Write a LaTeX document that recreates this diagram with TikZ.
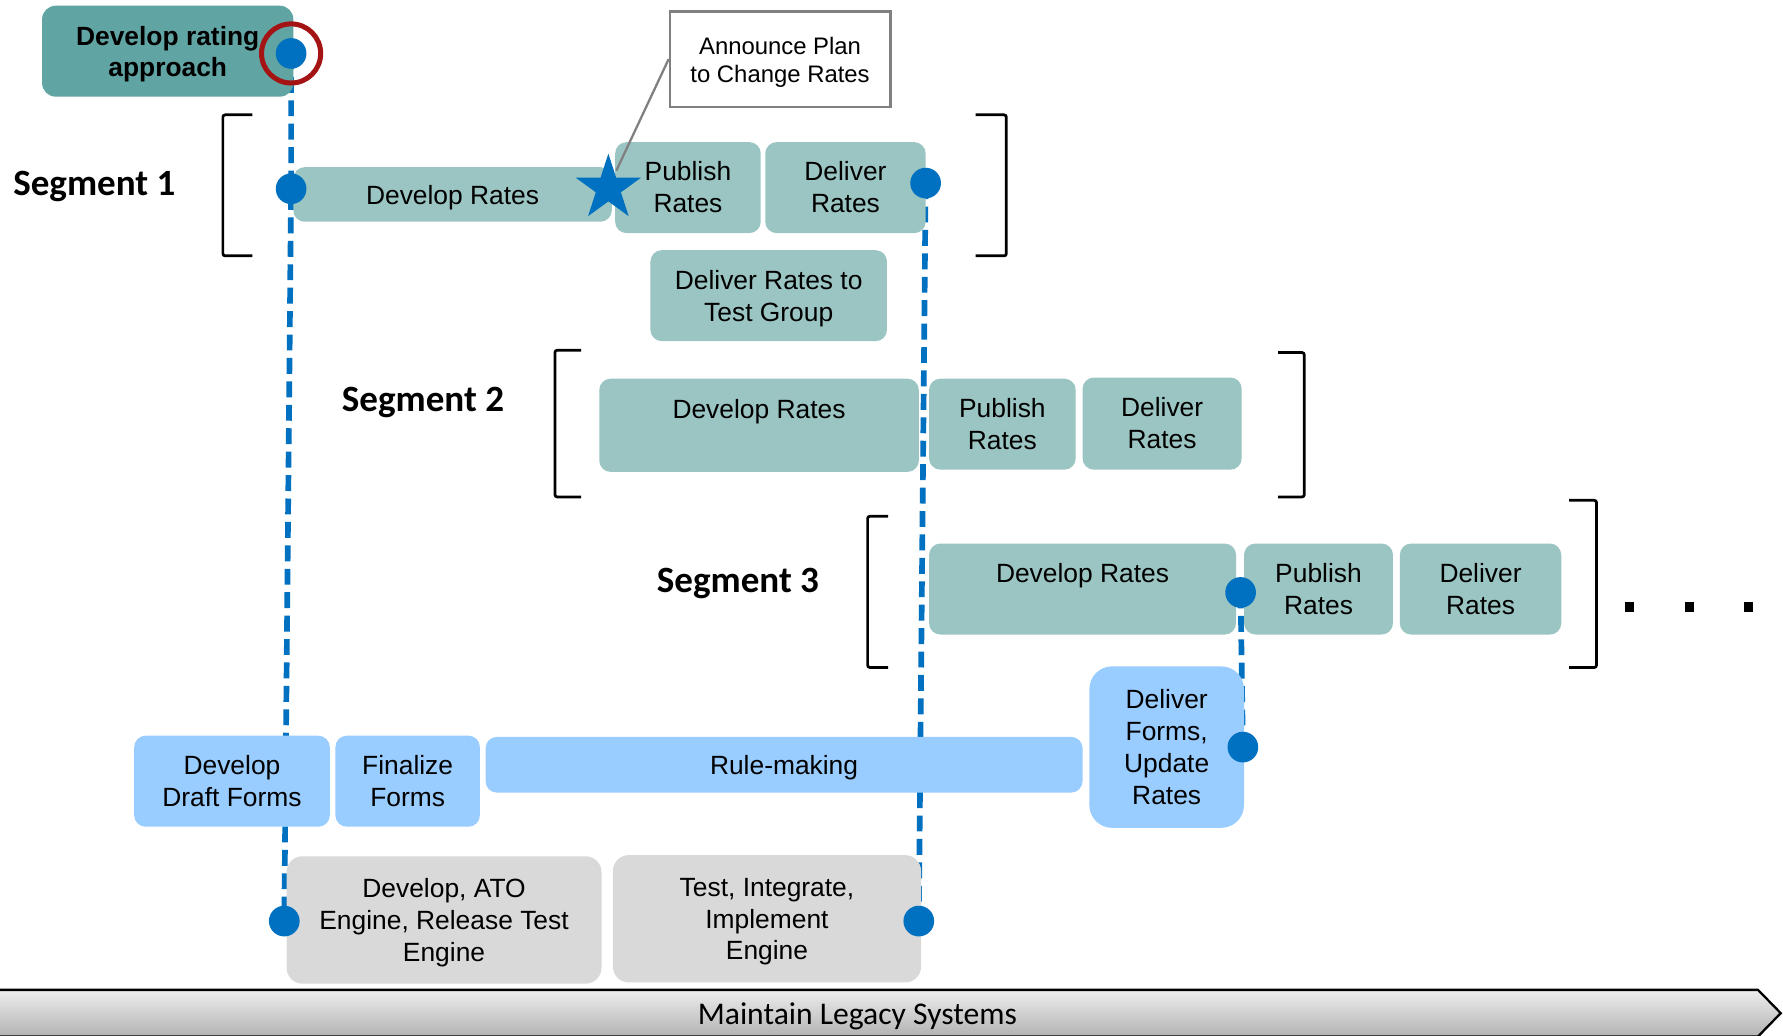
\documentclass[tikz,border=0pt]{standalone}
\usepackage{fontspec}
\setmainfont{Liberation Sans}
\newfontfamily\calib{Carlito}
\usetikzlibrary{shapes.geometric}
\pgfdeclarelayer{bg}
\pgfsetlayers{bg,main}
\definecolor{tealdark}{RGB}{96,165,163}
\definecolor{teallight}{RGB}{155,197,194}
\definecolor{bluelight}{RGB}{153,204,255}
\definecolor{greylight}{RGB}{217,217,217}
\definecolor{dotblue}{RGB}{0,112,192}
\definecolor{ringred}{RGB}{165,20,20}
\definecolor{linegray}{RGB}{128,128,128}
\definecolor{arrtop}{RGB}{238,238,238}
\definecolor{arrbot}{RGB}{178,178,178}
% name, x1, y1, x2, y2, box style, text style, text
\newcommand\mkbox[8]{%
  \node[#6, minimum width={(#4-#2)*0.5pt}, minimum height={(#5-#3)*0.5pt},
    label={[name=#1-t, boxtext, #7]center:{#8}}] (#1) at ({(#2+#4)/2},{(#3+#5)/2}) {};}
\begin{document}
\begin{tikzpicture}[x=0.5pt,y=-0.5pt,
  box/.style={rounded corners=5pt, inner sep=0pt},
  boxtext/.style={inner sep=0pt, align=center, yshift=-1.3pt, font=\fontsize{11.6}{14}\selectfont},
  hi/.style={yshift=1.4pt},
  tealbox/.style={box, fill=teallight},
  formbox/.style={box, fill=bluelight},
  engbox/.style={box, fill=greylight, rounded corners=7pt},
  dot/.style={circle, fill=dotblue, inner sep=0pt, minimum size=13.5pt},
  link/.style={draw=dotblue, line width=2.5pt, dash pattern=on 7pt off 3.3pt},
  bracket/.style={draw=black, line width=1.2pt, rounded corners=1pt},
  seglabel/.style={font=\calib\bfseries\fontsize{16.3}{19}\selectfont, yshift=-1.4pt},
  sq/.style={fill=black, inner sep=0pt, minimum width=4pt, minimum height=4.5pt}]
\clip (0,0) rectangle (1568,911);
\begin{pgfonlayer}{bg}
\fill[white] (0,0) rectangle (1568,911);
\end{pgfonlayer}

% top
\mkbox{rating}{37}{5}{258}{85}{box, fill=tealdark, rounded corners=6pt}{font=\bfseries\fontsize{11.6}{14}\selectfont}{Develop rating\\approach}
\mkbox{announce}{589}{10}{783}{94}{draw=linegray, line width=1pt, fill=white, inner sep=0pt}{font=\fontsize{10.5}{12.5}\selectfont}{Announce Plan\\to Change Rates}

% segment 1
\node[seglabel] (seg1) at (83,161) {Segment 1};
\draw[bracket] (222,101) -- (196,101) -- (196,225) -- (222,225);
\draw[bracket] (858,101) -- (885,101) -- (885,225) -- (858,225);
\mkbox{sadev}{258}{147}{538}{195}{tealbox}{}{Develop Rates}
\mkbox{sapub}{541}{125}{669}{205}{tealbox}{hi}{Publish\\Rates}
\mkbox{sadel}{673}{125}{814}{205}{tealbox}{hi}{Deliver\\Rates}
\mkbox{testgrp}{572}{220}{780}{300}{tealbox}{}{Deliver Rates to\\Test Group}

% segment 2
\node[seglabel] (seg2) at (372,351) {Segment 2};
\draw[bracket] (511,308) -- (488,308) -- (488,437) -- (511,437);
\draw[bracket] (1124,310) -- (1147,310) -- (1147,437) -- (1124,437);
\mkbox{sbdev}{527}{333}{808}{415}{tealbox}{hi}{Develop Rates\\\mbox{}}
\mkbox{sbpub}{817}{333}{946}{413}{tealbox}{hi}{Publish\\Rates}
\mkbox{sbdel}{952}{332}{1092}{413}{tealbox}{hi}{Deliver\\Rates}

% segment 3
\node[seglabel] (seg3) at (649,510) {Segment 3};
\draw[bracket] (781,454) -- (763,454) -- (763,587) -- (781,587);
\draw[bracket] (1380,440) -- (1404,440) -- (1404,587) -- (1380,587);
\mkbox{scdev}{817}{478}{1087}{558}{tealbox}{hi}{Develop Rates\\\mbox{}}
\mkbox{scpub}{1094}{478}{1225}{558}{tealbox}{hi}{Publish\\Rates}
\mkbox{scdel}{1231}{478}{1373}{558}{tealbox}{hi}{Deliver\\Rates}
\node[sq] (m1) at (1433,534) {};
\node[sq] (m2) at (1486,534) {};
\node[sq] (m3) at (1538,534) {};

% forms
\mkbox{draft}{118}{647}{290}{727}{formbox}{hi}{Develop\\Draft Forms}
\mkbox{final}{295}{647}{422}{727}{formbox}{hi}{Finalize\\Forms}
\mkbox{rule}{427}{648}{952}{697}{formbox}{}{Rule-making}
\mkbox{delforms}{958}{586}{1094}{728}{formbox, rounded corners=10pt}{hi}{Deliver\\Forms,\\Update\\Rates}

% engine
\mkbox{enga}{252}{753}{529}{865}{engbox}{}{Develop, ATO\\Engine, Release Test\\Engine}
\mkbox{engb}{539}{752}{810}{864}{engbox}{}{Test, Integrate,\\Implement\\Engine}

% bottom arrow
\path[draw=black, line width=1pt, top color=arrtop, bottom color=arrbot]
  (-5,870.5) -- (1546,870.5) -- (1566,891) -- (1546,911.5) -- (-5,911.5) -- cycle;
\node[font=\calib\fontsize{13.9}{16}\selectfont, yshift=-1.4pt] (legacy) at (754,891) {Maintain Legacy Systems};

% announce connector and star
\coordinate (starhit) at (542,150);
\draw[linegray, line width=1pt] (announce.west) -- (starhit);
\node[star, star points=5, star point ratio=2.618, fill=dotblue, inner sep=0pt, minimum size=30.4pt] (star) at (535,165.5) {};

% dots
\node[dot] (d0) at (256,47) {};
\node[circle, draw=ringred, line width=2.2pt, inner sep=0pt, minimum size=26pt] (ring) at (256,47) {};
\node[dot] (d1) at (256,166) {};
\node[dot] (d2) at (250,810) {};
\node[dot] (d3) at (814,161) {};
\node[dot] (d4) at (808,810) {};
\node[dot] (d5) at (1091,521) {};
\node[dot] (d6) at (1093,657) {};

\begin{pgfonlayer}{bg}
\draw[link] (d0.center) -- (d1.center) -- (d2.center);
\draw[link] (d3.center) -- (d4.center);
\draw[link] (d5.center) -- (d6.center);
\end{pgfonlayer}
\end{tikzpicture}
\end{document}
